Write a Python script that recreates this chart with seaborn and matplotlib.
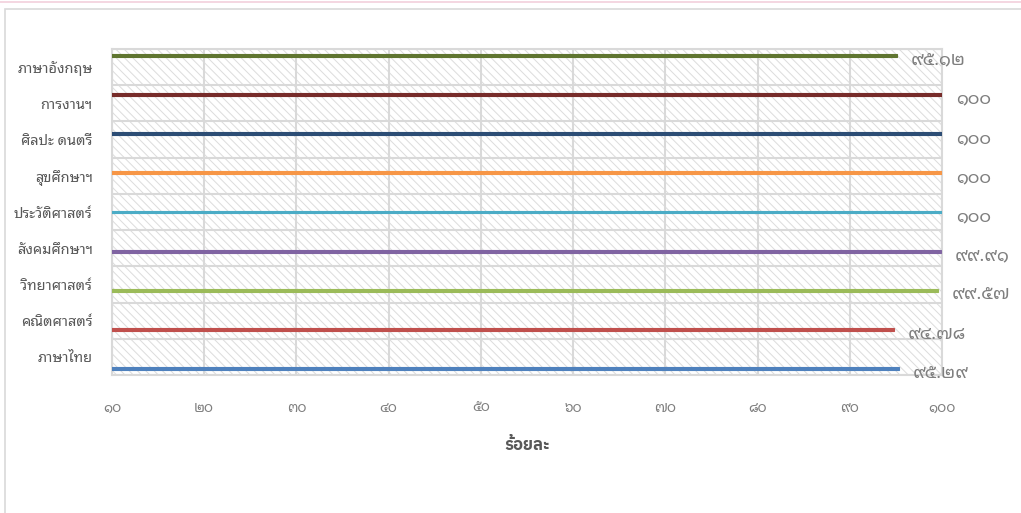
import matplotlib
matplotlib.use("Agg")
import numpy as np
import pandas as pd
import seaborn as sns
import matplotlib.pyplot as plt
from matplotlib.patches import Rectangle
from matplotlib.lines import Line2D

# subjects top to bottom, as in the chart
subjects = ['ภาษาอังกฤษ', 'การงานฯ', 'ศิลปะ ดนตรี', 'สุขศึกษาฯ', 'ประวัติศาสตร์',
            'สังคมศึกษาฯ', 'วิทยาศาสตร์', 'คณิตศาสตร์', 'ภาษาไทย']
percent = [95.12, 100, 100, 100, 100, 99.91, 99.57, 94.78, 95.29]
bar_colors = ['#5f7530', '#772c2a', '#2c4d75', '#f79646', '#4bacc6',
              '#8064a2', '#9bbb59', '#c0504d', '#4f81bd']
x_ticks = [10, 20, 30, 40, 50, 60, 70, 80, 90, 100]
x_title = 'ร้อยละ'

THAI_DIGITS = str.maketrans('0123456789', '๐๑๒๓๔๕๖๗๘๙')


def to_thai(v):
    s = ('%.2f' % v).rstrip('0').rstrip('.')
    return s.translate(THAI_DIGITS)


df = pd.DataFrame({'subject': subjects, 'percent': percent})

sns.set_theme(style='white')
thai_font = ['Noto Sans Thai Looped', 'DejaVu Sans']
plt.rcParams['font.family'] = thai_font
plt.rcParams['hatch.color'] = '#dcdcdc'
plt.rcParams['hatch.linewidth'] = 0.7

grid_col = '#d9d9d9'
text_col = '#595959'
num_col = '#7f7f7f'

fig = plt.figure(figsize=(10.21, 5.13), dpi=100)
ax = fig.add_axes([112 / 1021, 1 - 375 / 513, 830 / 1021, 326 / 513])

# hatched plot area
ax.add_patch(Rectangle((0, 0), 1, 1, transform=ax.transAxes, facecolor='white',
                       edgecolor='#dcdcdc', hatch='\\\\\\\\', linewidth=0, zorder=0))

sns.barplot(data=df, y='subject', x='percent', hue='subject', order=subjects,
            hue_order=subjects, palette=dict(zip(subjects, bar_colors)),
            dodge=True, width=0.72, gap=0, saturation=1, legend=False, ax=ax,
            linewidth=0.8, zorder=3)
for cont in ax.containers:
    for p in cont.patches:
        p.set_edgecolor(p.get_facecolor())

# data labels in Thai digits
for cont, val in zip(ax.containers, percent):
    for p in cont.patches:
        ax.annotate(to_thai(val), (p.get_x() + p.get_width(), p.get_y() + p.get_height() / 2),
                    xytext=(10, -3), textcoords='offset points', ha='left', va='center',
                    fontsize=13, color=num_col, annotation_clip=False)

ax.set_xlim(10, 100)
ax.set_xticks(x_ticks)
ax.set_xticklabels([to_thai(t) for t in x_ticks], fontsize=10, color=num_col)
ax.set_ylim(len(subjects) - 0.5, -0.5)
ax.set_yticks(range(len(subjects)))
ax.set_yticklabels(subjects, fontsize=10.5, color=text_col)
ax.set_yticks(np.arange(-0.5, len(subjects), 1), minor=True)

ax.set_xlabel(x_title, fontsize=12, fontweight='bold', color=text_col,
              family=['IBM Plex Sans Thai', 'DejaVu Sans'], labelpad=15)
ax.set_ylabel('')

ax.tick_params(axis='x', which='major', length=0, pad=19)
ax.tick_params(axis='y', which='major', length=0, pad=14)
ax.tick_params(axis='y', which='minor', length=5, width=1.5, color=grid_col, direction='out')

ax.grid(True, axis='x', which='major', color=grid_col, linewidth=1.5, zorder=1)
ax.grid(True, axis='y', which='minor', color=grid_col, linewidth=1.5, zorder=1)
ax.grid(False, axis='y', which='major')
ax.set_axisbelow(True)
for side in ['left', 'bottom', 'top', 'right']:
    ax.spines[side].set_color(grid_col)
    ax.spines[side].set_linewidth(1.5)

# chart border and top line like the source
fig.add_artist(Rectangle((5 / 1021, -0.1), 1.2, 1.1 - 9 / 513, transform=fig.transFigure,
                         fill=False, edgecolor=grid_col, linewidth=1.2))
fig.add_artist(Line2D([0, 1], [1 - 2 / 513, 1 - 2 / 513], transform=fig.transFigure,
                      color='#f2d0dc', linewidth=1.2))

fig.savefig('out.png', dpi=100, facecolor='white')
